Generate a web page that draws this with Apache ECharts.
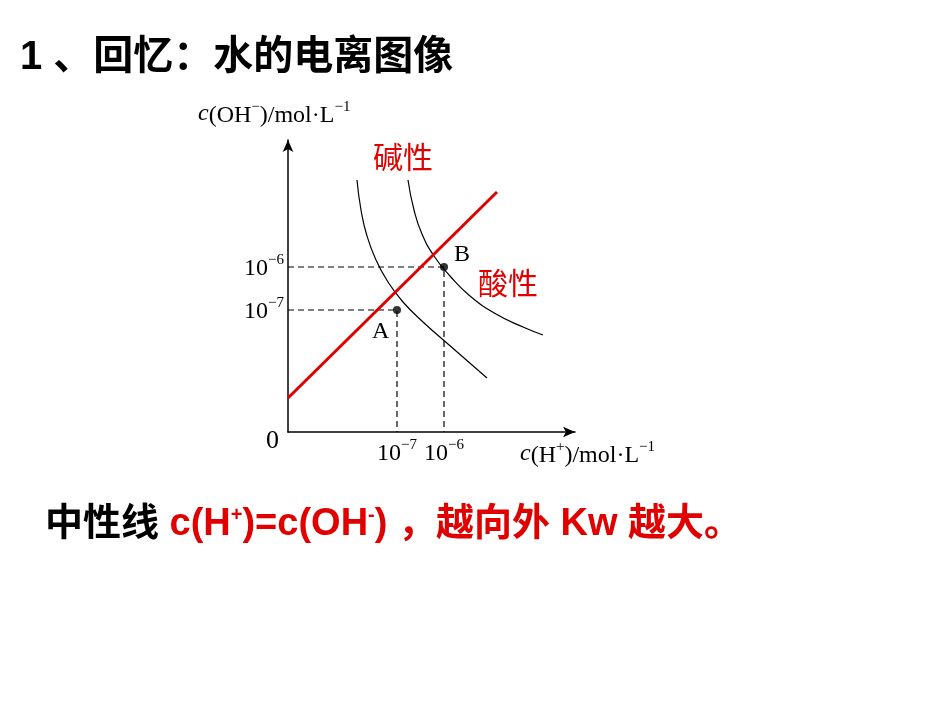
<!DOCTYPE html>
<html><head><meta charset="utf-8">
<script src="https://cdn.jsdelivr.net/npm/echarts@6/dist/echarts.min.js"></script>
<style>html,body{margin:0;background:#fff}#c{width:950px;height:713px}</style>
</head><body><div id="c"></div>
<script>
// coordinates in diagram units (origin = axis origin)
const neutralLine = [[0, 34], [209, 240]];
const innerCurve = [[69,252],[73,222],[79,196],[88,172],[100,150],[115,130],[135,110],[160,88],[199,54]];
const outerCurve = [[120,252],[126,222],[134,198],[146,176],[162,156],[182,136],[208,118],[235,105],[255,97]];
const pointA = [109, 122];
const pointB = [156, 165];
const tickX = [[109, '10', '−7'], [156, '10', '−6']];
const tickY = [[122, '10', '−7'], [165, '10', '−6']];

const chart = echarts.init(document.getElementById('c'));
const dash = {color:'#000', type:[6,4], width:1.2};
function dashed(p){return {type:'line', data:[[0,p[1]],p,[p[0],0]], symbol:'none', lineStyle:dash, silent:true};}
chart.setOption({
  animation:false,
  grid:{left:288, top:140, width:287, height:292},
  xAxis:{type:'value', min:0, max:287, splitLine:{show:false}, axisTick:{show:false}, axisLabel:{show:false},
    axisLine:{lineStyle:{color:'#000',width:1.5}, symbol:['none','arrow'], symbolSize:[8,12]}},
  yAxis:{type:'value', min:0, max:292, splitLine:{show:false}, axisTick:{show:false}, axisLabel:{show:false},
    axisLine:{lineStyle:{color:'#000',width:1.5}, symbol:['none','arrow'], symbolSize:[8,12]}},
  series:[
    dashed(pointA), dashed(pointB),
    {type:'line', data:innerCurve, smooth:true, symbol:'none', lineStyle:{color:'#000', width:1.2}},
    {type:'line', data:outerCurve, smooth:true, symbol:'none', lineStyle:{color:'#000', width:1.2}},
    {type:'line', data:neutralLine, symbol:'none', lineStyle:{color:'#e00000', width:3}},
    {type:'scatter', data:[pointA, pointB], symbolSize:8, itemStyle:{color:'#000'}}
  ]
});
const P = p => chart.convertToPixel({gridIndex:0}, p);
const serif = 'Liberation Serif';
const sup = {t:{fontFamily:serif, fontSize:24, color:'#000', fill:'#000', verticalAlign:'bottom'},
  s:{fontFamily:serif, fontSize:15, color:'#000', fill:'#000', verticalAlign:'top', padding:[0,0,13,0]},
  i:{fontFamily:serif, fontSize:24, fontStyle:'italic', color:'#000', fill:'#000'}};
const els = [];
function txt(x,y,text,style){els.push({type:'text', x, y, style:Object.assign({text, fill:'#000'}, style)});}
tickX.forEach(t=>{const p=P([t[0],0]); els.push({type:'text', x:p[0], y:p[1]+6, style:{text:'{t|'+t[1]+'}{s|'+t[2]+'}', rich:sup, align:'center'}});});
tickY.forEach(t=>{const p=P([0,t[0]]); els.push({type:'text', x:p[0]-4, y:p[1], style:{text:'{t|'+t[1]+'}{s|'+t[2]+'}', rich:sup, align:'right', verticalAlign:'middle'}});});
const o = P([0,0]);
txt(o[0]-22, o[1]-4, '0', {font:'26px '+serif});
const a = P(pointA), b = P(pointB);
txt(a[0]-25, a[1]+10, 'A', {font:'24px '+serif});
txt(b[0]+10, b[1]-24, 'B', {font:'24px '+serif});
els.push({type:'text', x:198, y:100, style:{text:'{i|c}{t|(OH}{s|−}{t|)/mol·L}{s|−1}', rich:sup}});
els.push({type:'text', x:520, y:440, style:{text:'{i|c}{t|(H}{s|+}{t|)/mol·L}{s|−1}', rich:sup}});
txt(373, 142, '碱性', {font:'30px "Noto Sans CJK SC"', fill:'#e00000'});
txt(478, 268, '酸性', {font:'30px "Noto Sans CJK SC"', fill:'#e00000'});
txt(20, 38, '1 、回忆：水的电离图像', {font:'bold 40px "Liberation Sans","Noto Sans CJK SC"'});
const F = '"Liberation Sans","Noto Sans CJK SC"';
const big = {b:{font:'bold 38px '+F, fill:'#000', color:'#000'}, r:{font:'bold 38px '+F, fill:'#e00000', color:'#e00000'},
  rs:{font:'bold 20px '+F, fill:'#e00000', color:'#e00000', verticalAlign:'top', padding:[0,0,20,0]}};
els.push({type:'text', x:45, y:505, style:{text:'{b|中性线 }{r|c(H}{rs|+}{r|)=c(OH}{rs|-}{r|) ，越向外 Kw 越大。}', rich:big}});
chart.setOption({graphic:els});
</script></body></html>
